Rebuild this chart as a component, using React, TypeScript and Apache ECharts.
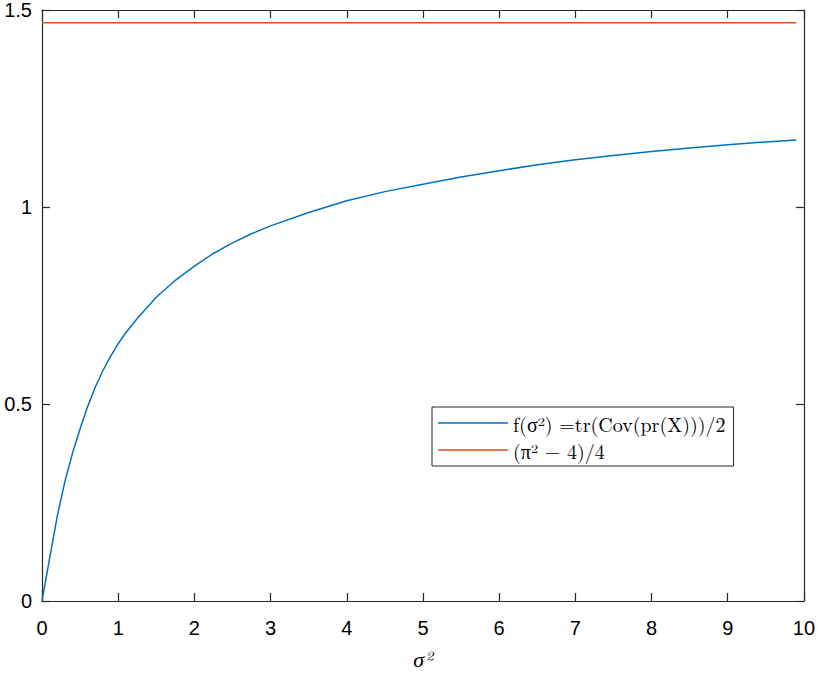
import React, { useEffect, useRef } from "react";
import * as echarts from "echarts";

const sigma2 = [0, 0.1, 0.2, 0.3, 0.4, 0.5, 0.6, 0.7, 0.8, 0.9, 1.0, 1.1, 1.25, 1.5, 1.75, 2.0, 2.25, 2.5, 2.75, 3.0, 3.5, 4.0, 4.5, 5.0, 5.5, 6.0, 6.5, 7.0, 7.5, 8.0, 8.5, 9.0, 9.5, 9.9];
const fValues = [0, 0.108, 0.215, 0.303, 0.375, 0.437, 0.494, 0.543, 0.585, 0.621, 0.653, 0.681, 0.717, 0.771, 0.814, 0.85, 0.882, 0.909, 0.932, 0.952, 0.986, 1.016, 1.039, 1.058, 1.076, 1.092, 1.107, 1.12, 1.131, 1.141, 1.15, 1.158, 1.165, 1.17];
const limitX = [0, 9.9];
const limitValue = (Math.PI * Math.PI - 4) / 4;
const seriesNames = ["f(σ²) =tr(Cov(pr(X)))/2", "(π² − 4)/4"];
const xTicks = [0, 1, 2, 3, 4, 5, 6, 7, 8, 9, 10];
const yTicks = [0, 0.5, 1, 1.5];

const axisColor = "#262626";
const labelFont = "'Liberation Sans', Arial, Helvetica, sans-serif";
const serif = "'Latin Modern Roman', 'Liberation Serif', 'DejaVu Serif', serif";

export default function App() {
  const ref = useRef<HTMLDivElement>(null);
  useEffect(() => {
    if (!ref.current) return;
    const chart = echarts.init(ref.current, undefined, { renderer: "svg" });
    const commonX = {
      type: "value" as const,
      min: xTicks[0],
      max: xTicks[xTicks.length - 1],
      interval: 1,
      splitLine: { show: false },
      axisLine: { show: true, onZero: false, lineStyle: { color: axisColor, width: 1.2 } },
      axisTick: { show: true, inside: true, length: 8, lineStyle: { color: axisColor, width: 1.2 } },
    };
    const commonY = {
      type: "value" as const,
      min: yTicks[0],
      max: yTicks[yTicks.length - 1],
      interval: 0.5,
      splitLine: { show: false },
      axisLine: { show: true, onZero: false, lineStyle: { color: axisColor, width: 1.2 } },
      axisTick: { show: true, inside: true, length: 8, lineStyle: { color: axisColor, width: 1.2 } },
    };
    chart.setOption({
      animation: false,
      backgroundColor: "#ffffff",
      grid: { left: 42, right: 12, top: 8, bottom: 65, containLabel: false },
      xAxis: [
        {
          ...commonX,
          position: "bottom",
          axisLabel: { color: "#000", fontSize: 20, fontFamily: labelFont, margin: 17 },
          name: "σ²",
          nameLocation: "middle",
          nameGap: 45,
          nameTextStyle: { color: "#000", fontSize: 22, fontFamily: serif, fontStyle: "italic" },
        },
        { ...commonX, position: "top", axisLabel: { show: false } },
      ],
      yAxis: [
        {
          ...commonY,
          position: "left",
          axisLabel: { color: "#000", fontSize: 20, fontFamily: labelFont, margin: 10 },
        },
        { ...commonY, position: "right", axisLabel: { show: false } },
      ],
      legend: {
        orient: "vertical",
        left: 432,
        top: 407,
        backgroundColor: "#fff",
        borderColor: "#262626",
        borderWidth: 1,
        borderRadius: 0,
        padding: [6, 8, 6, 6],
        icon: "rect",
        itemWidth: 70,
        itemHeight: 1.5,
        itemGap: 7,
        data: seriesNames,
        textStyle: {
          color: "#000",
          fontSize: 20,
          fontFamily: serif,
          lineHeight: 20,
        },
      },
      series: [
        {
          name: seriesNames[0],
          type: "line",
          data: sigma2.map((x, i) => [x, fValues[i]]),
          showSymbol: false,
          symbol: "none",
          smooth: false,
          lineStyle: { color: "#0072BD", width: 1.5 },
          itemStyle: { color: "#0072BD" },
        },
        {
          name: seriesNames[1],
          type: "line",
          data: limitX.map((x) => [x, limitValue]),
          showSymbol: false,
          symbol: "none",
          lineStyle: { color: "#D95319", width: 1.5 },
          itemStyle: { color: "#D95319" },
        },
      ],
    });
    return () => chart.dispose();
  }, []);
  return <div ref={ref} style={{ width: 818, height: 673, position: "absolute", left: 0, top: 0 }} />;
}
